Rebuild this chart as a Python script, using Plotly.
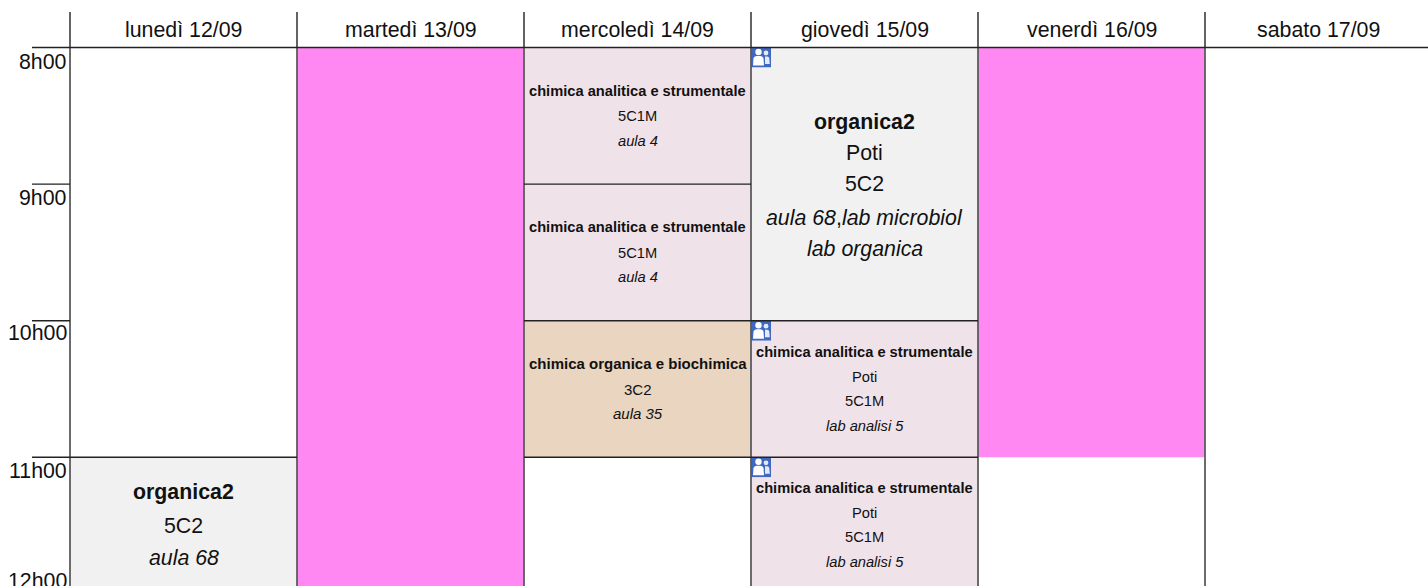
import base64
import plotly.graph_objects as go

W, H = 1428, 586
X0, COL = 70.0, 227.0      # left edge of first column and column width in px
Y0, ROW = 47.5, 136.6      # y of 8h00 and height of one hour in px

days = ["lunedì 12/09", "martedì 13/09", "mercoledì 14/09", "giovedì 15/09", "venerdì 16/09", "sabato 17/09"]
hours = [8, 9, 10, 11, 12]
hour_labels = ["8h00", "9h00", "10h00", "11h00", "12h00"]

COLORS = {"pink": "#FF88F3", "gray": "#F1F1F1", "lilac": "#F0E2E9", "tan": "#E9D5C0"}

event_day = [1, 4, 0, 2, 2, 2, 3, 3, 3]
event_start = [8, 8, 11, 8, 9, 10, 8, 10, 11]
event_end = [12.5, 11, 12.5, 9, 10, 11, 10, 11, 12.5]
event_color = ["pink", "pink", "gray", "lilac", "lilac", "tan", "gray", "lilac", "lilac"]
event_icon = [False, False, False, False, False, False, True, True, True]
event_lines = [
    [], [],
    ["<b>organica2</b>", "5C2", "<i>aula 68</i>"],
    ["<b>chimica analitica e strumentale</b>", "5C1M", "<i>aula 4</i>"],
    ["<b>chimica analitica e strumentale</b>", "5C1M", "<i>aula 4</i>"],
    ["<b>chimica organica e biochimica</b>", "3C2", "<i>aula 35</i>"],
    ["<b>organica2</b>", "Poti", "5C2", "<i>aula 68</i>,<i>lab microbiol</i>", "<i>lab organica</i>"],
    ["<b>chimica analitica e strumentale</b>", "Poti", "5C1M", "<i>lab analisi 5</i>"],
    ["<b>chimica analitica e strumentale</b>", "Poti", "5C1M", "<i>lab analisi 5</i>"],
]
# style per event: text size and px offset of each line below the event's top
event_size = [0, 0, 21.33, 14.67, 14.67, 15.0, 21.33, 14.67, 14.67]
event_offsets = [
    [], [],
    [35, 69, 101],
    [43, 68.5, 93],
    [43, 68.5, 93],
    [43, 68.5, 93],
    [74.5, 105, 136, 170, 201],
    [31.5, 56, 80.5, 105],
    [31, 56, 80, 105],
]


def dx(px):
    return px / COL


def dy(px):
    return px / ROW


fig = go.Figure()
for name, color in COLORS.items():
    idx = [i for i, c in enumerate(event_color) if c == name]
    fig.add_trace(go.Bar(
        x=[event_day[i] + 0.5 for i in idx],
        y=[event_end[i] - event_start[i] for i in idx],
        base=[event_start[i] for i in idx],
        width=1,
        marker=dict(color=color, line=dict(width=0)),
        hoverinfo="skip",
        showlegend=False,
    ))

DARK = "#222222"
GRAY = "#5c5c5c"
TEXT = "#111111"
shapes = []


def line(x0, y0, x1, y1, color, width):
    shapes.append(dict(type="line", xref="x", yref="y", x0=x0, y0=y0, x1=x1, y1=y1,
                       line=dict(color=color, width=width)))


# column separators: the header part and the body part
for d in range(len(days)):
    line(d, 8 - dy(Y0 - 12), d, 8, DARK, 1.4)
    line(d, 8, d, 12.5, GRAY, 1.8)

# hour ticks left of the first column
for h in hours[:-1]:
    line(-dx(38), h, 0, h, DARK, 1.4)
# header rule
line(0, 8, len(days) + 1, 8, DARK, 1.4)
# event bottom borders
for i in range(len(event_day)):
    if event_color[i] == "pink":
        continue
    if event_end[i] <= 12:
        line(event_day[i], event_end[i], event_day[i] + 1, event_end[i], DARK, 1.4)
# line above the Monday event
line(0, 11, 1, 11, DARK, 1.4)

annotations = []


def label(x, y, text, size, anchor="center"):
    annotations.append(dict(xref="x", yref="y", x=x, y=y, text=text, showarrow=False,
                            xanchor=anchor, yanchor="middle", borderpad=0,
                            font=dict(family="Liberation Sans", size=size, color=TEXT)))


for d, name in enumerate(days):
    label(d + 0.5, 8 - dy(Y0 - 29.5), name, 21.33)

hour_label_offsets = [14.5, 13.5, 12.5, 14, -13]
for h, txt, off in zip(hours, hour_labels, hour_label_offsets):
    label(-dx(2), h + dy(off), txt, 21.33, anchor="right")

for i in range(len(event_day)):
    for txt, off in zip(event_lines[i], event_offsets[i]):
        label(event_day[i] + 0.5, event_start[i] + dy(off), txt, event_size[i])

svg = ('<svg xmlns="http://www.w3.org/2000/svg" viewBox="0 0 20 20">'
       '<rect width="20" height="20" fill="#3F69C0"/>'
       '<circle cx="7.5" cy="4.5" r="3.2" fill="#fff"/>'
       '<path d="M2 18 L2.5 11 Q3 8.5 6 8.5 L9 8.5 Q12 8.5 12.5 11 L13 18 Z" fill="#fff"/>'
       '<circle cx="15" cy="5.5" r="2.4" fill="#e4eaf8"/>'
       '<path d="M14 9 L16.5 9 Q18 9 18.3 11 L18.8 16.5 L14 16.5 Z" fill="#e4eaf8"/>'
       '</svg>')
src = "data:image/svg+xml;base64," + base64.b64encode(svg.encode()).decode()
images = [dict(source=src, xref="x", yref="y", x=event_day[i], y=event_start[i],
               sizex=dx(20), sizey=dy(20), xanchor="left", yanchor="top",
               sizing="stretch", layer="above")
          for i in range(len(event_day)) if event_icon[i]]

fig.update_layout(
    width=W, height=H,
    margin=dict(l=0, r=0, t=0, b=0),
    paper_bgcolor="white", plot_bgcolor="white",
    barmode="overlay",
    showlegend=False,
    xaxis=dict(range=[-X0 / COL, (W - X0) / COL], visible=False, fixedrange=True),
    yaxis=dict(range=[8 + (H - Y0) / ROW, 8 - Y0 / ROW], visible=False, fixedrange=True),
    shapes=shapes, annotations=annotations, images=images,
)

fig.write_html("out.html", config={"displayModeBar": False},
               post_script="document.body.style.margin='0';document.body.style.overflow='hidden';")
